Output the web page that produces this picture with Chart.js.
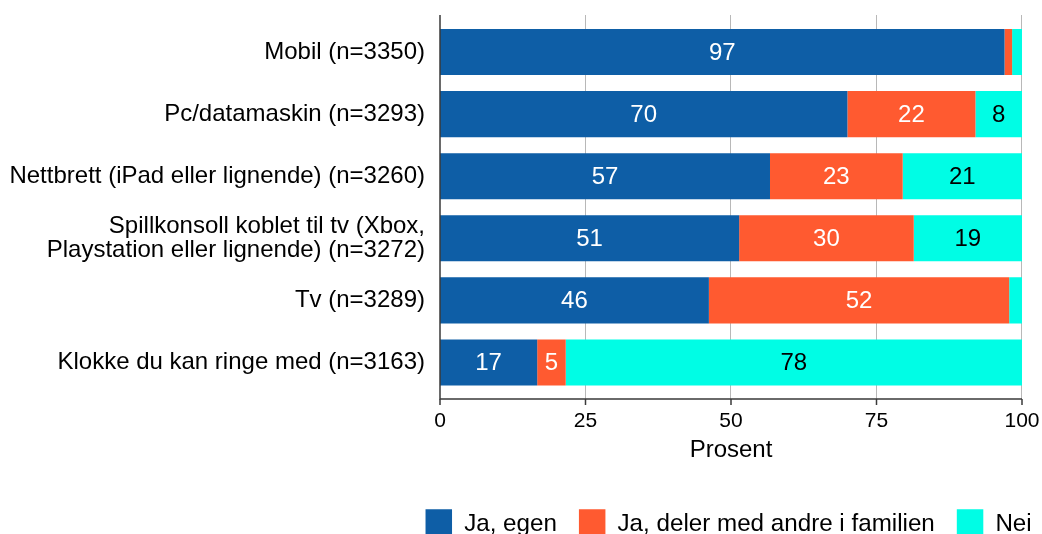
<!DOCTYPE html>
<html>
<head>
<meta charset="utf-8">
<script src="https://cdn.jsdelivr.net/npm/chart.js@4.4.1/dist/chart.umd.min.js"></script>
<style>
  html, body { margin: 0; padding: 0; background: #fff; }
</style>
</head>
<body>
<canvas id="chart" width="1042" height="534"></canvas>
<script>
// data (percent)
const categories = [
  "Mobil (n=3350)",
  "Pc/datamaskin (n=3293)",
  "Nettbrett (iPad eller lignende) (n=3260)",
  ["Spillkonsoll koblet til tv (Xbox,", "Playstation eller lignende) (n=3272)"],
  "Tv (n=3289)",
  "Klokke du kan ringe med (n=3163)"
];
const seriesNames = ["Ja, egen", "Ja, deler med andre i familien", "Nei"];
const jaEgen = [97, 70, 56.7, 51.4, 46.2, 16.7];
const jaDeler = [1.3, 22, 22.8, 30.0, 51.6, 4.9];
const nei = [1.7, 8, 20.5, 18.6, 2.2, 78.4];
const xTicks = [0, 25, 50, 75, 100];

const colors = ["#0e5ea6", "#ff5a30", "#00fde5"];
const FONT = '"Liberation Sans", Arial, sans-serif';

Chart.defaults.font.family = FONT;
Chart.defaults.color = "#000";

// grid, axis lines and value labels
const frame = {
  id: "frame",
  beforeDatasetsDraw(chart) {
    const { ctx, chartArea: a, scales: { x } } = chart;
    ctx.save();
    ctx.strokeStyle = "#b8b8b8";
    ctx.lineWidth = 1;
    xTicks.forEach(v => {
      if (v === 0) return;
      const px = Math.round(x.getPixelForValue(v)) - 0.5;
      ctx.beginPath();
      ctx.moveTo(px, a.top - 6);
      ctx.lineTo(px, a.bottom + 5.5);
      ctx.stroke();
    });
    ctx.restore();
  },
  afterDatasetsDraw(chart) {
    const { ctx, chartArea: a, scales: { x } } = chart;
    ctx.save();
    // axes
    ctx.strokeStyle = "#3a3a3a";
    ctx.lineWidth = 1.5;
    const y0 = a.bottom + 5.5;
    ctx.beginPath();
    ctx.moveTo(a.left, a.top - 6);
    ctx.lineTo(a.left, y0);
    ctx.lineTo(a.right, y0);
    ctx.stroke();
    xTicks.forEach(v => {
      const px = x.getPixelForValue(v);
      ctx.beginPath();
      ctx.moveTo(px, y0);
      ctx.lineTo(px, y0 + 6);
      ctx.stroke();
    });
    // value labels
    ctx.font = "24px " + FONT;
    ctx.textAlign = "center";
    ctx.textBaseline = "middle";
    chart.data.datasets.forEach((ds, i) => {
      chart.getDatasetMeta(i).data.forEach((bar, j) => {
        const v = ds.data[j];
        if (v < 4.5) return;
        ctx.fillStyle = i === 2 ? "#000" : "#fff";
        ctx.fillText(Math.round(v), (bar.x + bar.base) / 2, bar.y + 1);
      });
    });
    ctx.restore();
  },
  afterLayout(chart) {
    // legend sits lower and further right than Chart.js puts it
    const l = chart.legend;
    l.left += 31.7; l.right += 31.7;
    l.top += 15.3; l.bottom += 15.3;
  }
};

new Chart(document.getElementById("chart"), {
  type: "bar",
  data: {
    labels: categories,
    datasets: [jaEgen, jaDeler, nei].map((d, i) => ({
      label: seriesNames[i],
      data: d,
      backgroundColor: colors[i],
      borderWidth: 0,
      barPercentage: 0.741,
      categoryPercentage: 1
    }))
  },
  options: {
    indexAxis: "y",
    responsive: false,
    animation: false,
    devicePixelRatio: 1,
    layout: { padding: { top: 21, right: 20, left: 0, bottom: 0 } },
    scales: {
      x: {
        stacked: true,
        min: 0,
        max: 100,
        afterBuildTicks: s => { s.ticks = xTicks.map(v => ({ value: v })); },
        afterFit: s => { s.height = 78.5; s.paddingLeft = 0; s.paddingRight = 0; },
        grid: { display: false, drawTicks: false },
        border: { display: false },
        ticks: { font: { size: 21 }, color: "#000", padding: 15.4, maxRotation: 0 },
        title: { display: true, text: "Prosent", font: { size: 24 }, color: "#000", padding: { top: 0, bottom: 7.5 } }
      },
      y: {
        stacked: true,
        afterFit: s => { s.width = 440; s.paddingTop = 0; s.paddingBottom = 0; },
        grid: { display: false, drawTicks: false },
        border: { display: false },
        ticks: { font: { size: 24, lineHeight: 1.0 }, color: "#000", padding: 15 }
      }
    },
    plugins: {
      tooltip: { enabled: false },
      legend: {
        position: "bottom",
        align: "end",
        labels: { boxWidth: 26.5, boxHeight: 30, padding: 22, font: { size: 24.2 }, color: "#000" }
      }
    }
  },
  plugins: [frame]
});
</script>
</body>
</html>
